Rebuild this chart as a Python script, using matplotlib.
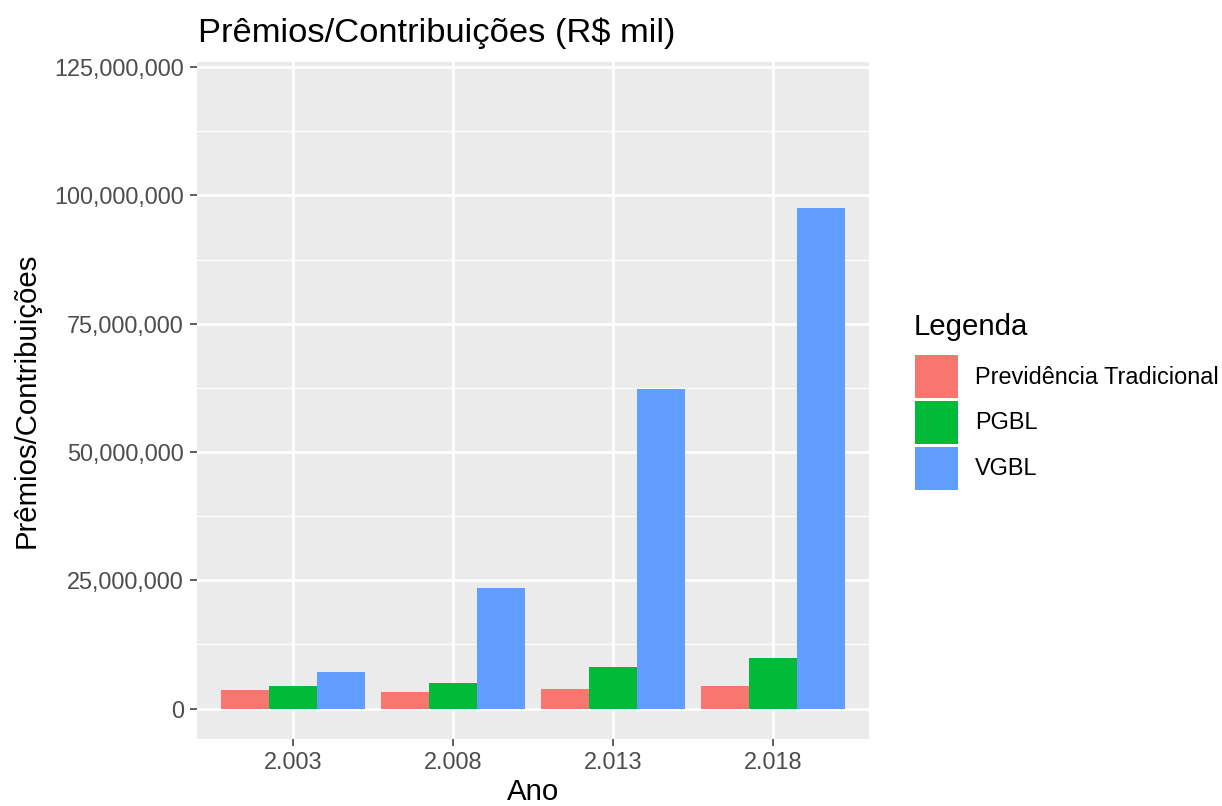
import matplotlib
matplotlib.use("Agg")
import matplotlib.pyplot as plt
import numpy as np
from matplotlib.ticker import FuncFormatter, MultipleLocator

# ggplot-like sizes scaled from 192 dpi to 100 dpi
k = 1.92

anos = ["2.003", "2.008", "2.013", "2.018"]
series = ["Previdência Tradicional", "PGBL", "VGBL"]
prev_trad = [3700000, 3300000, 3900000, 4450000]
pgbl = [4300000, 5050000, 8000000, 9900000]
vgbl = [7200000, 23450000, 62200000, 97500000]
cores = ["#F8766D", "#00BA38", "#619CFF"]

plt.rcParams['font.family'] = ['Liberation Sans', 'DejaVu Sans']

fig = plt.figure(figsize=(12.22, 8.06), dpi=100)
ax = fig.add_axes([197/1222, 1 - 739.3/806, (869 - 197)/1222, (739.3 - 62)/806])
ax.set_facecolor("#EBEBEB")
for s in ax.spines.values():
    s.set_visible(False)

x = np.arange(1, len(anos) + 1)
w = 0.3
for j, (vals, nome) in enumerate(zip([prev_trad, pgbl, vgbl], series)):
    ax.bar(x + (j - 1) * w, vals, width=w, color=cores[j], label=nome, zorder=3)

# y scale: limits 0..120M with 5% expansion
ax.set_ylim(-6000000, 126000000)
ax.set_xlim(0.4, 4.6)
ax.yaxis.set_major_locator(MultipleLocator(25000000))
ax.yaxis.set_minor_locator(MultipleLocator(12500000))
ax.yaxis.set_major_formatter(FuncFormatter(lambda v, p: "{:,}".format(int(v))))
ax.set_xticks(x)
ax.set_xticklabels(anos)

ax.grid(which="major", color="white", linewidth=2.0, zorder=0)
ax.grid(which="minor", axis="y", color="white", linewidth=1.0, zorder=0)
ax.set_axisbelow(True)
ax.tick_params(axis="both", which="major", length=2.75 * k, width=1.1,
               color="#333333", labelcolor="#4D4D4D", labelsize=8.8 * k)
ax.tick_params(axis="y", which="minor", length=0)
ax.tick_params(axis="x", pad=3.5)
ax.tick_params(axis="y", pad=4.3)

fig.text(198/1222, 1 - 42/806, "Prêmios/Contribuições (R$ mil)",
         fontsize=24.8, ha="left", va="baseline")
fig.text(533/1222, 1 - 792/806, "Ano", fontsize=11 * k, ha="center", va="center")
fig.text(27/1222, 1 - 400/806, "Prêmios/Contribuições", fontsize=11 * k,
         rotation=90, ha="center", va="center")

# legend (title drawn separately so the keys can be placed exactly)
fig.text(914/1222, 1 - 335/806, "Legenda", fontsize=11 * k, ha="left", va="baseline")
leg = ax.legend(loc="upper left", bbox_to_anchor=(915/1222, 1 - 355/806),
                bbox_transform=fig.transFigure,
                frameon=False, fontsize=8.8 * k,
                handlelength=1.83, handleheight=2.44, labelspacing=0.12,
                handletextpad=0.72, borderpad=0, borderaxespad=0)

fig.savefig("out.png", dpi=100)
